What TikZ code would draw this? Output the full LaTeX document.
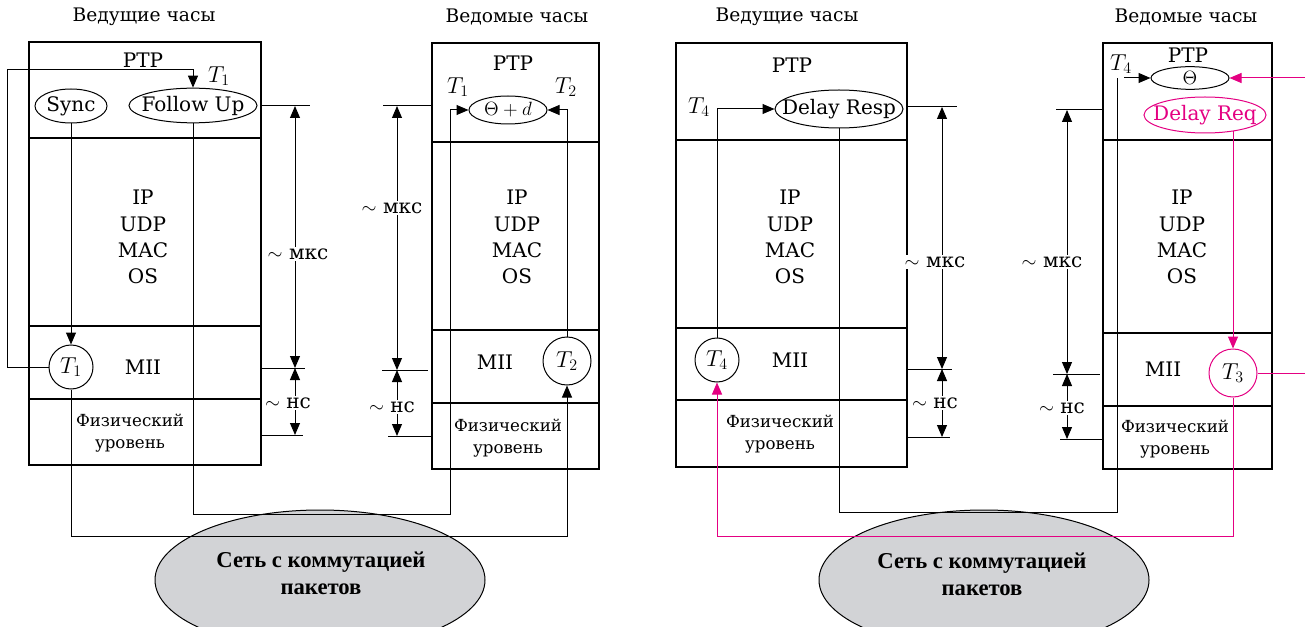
\documentclass[tikz,border=0pt]{standalone}
\usepackage{fontspec}
\setmainfont{DejaVu Serif}
\newfontfamily\netfont{Liberation Serif}
\usetikzlibrary{arrows.meta,shapes.geometric,calc}
\definecolor{ptpmag}{RGB}{228,0,130}
\definecolor{netgray}{RGB}{210,211,214}

% one protocol column: left, top, right, three separators, bottom
\newcommand\drawcolumn[7]{%
  \draw[layer] (#1,#2) rectangle (#3,#7);
  \draw[layer] (#1,#4) -- (#3,#4);
  \draw[layer] (#1,#5) -- (#3,#5);
  \draw[layer] (#1,#6) -- (#3,#6);
}

\begin{document}
\begin{tikzpicture}[x=0.75pt,y=-0.75pt,
  layer/.style={draw, line width=2pt},
  wire/.style={line width=0.75pt},
  tip/.tip={Triangle[length=9pt,width=7.5pt]},
  arr/.style={wire, -tip},
  dimarr/.style={wire, tip-tip},
  mwire/.style={wire, draw=ptpmag},
  marr/.style={wire, draw=ptpmag, -{Triangle[length=9pt,width=7.5pt,fill=ptpmag]}},
  txt/.style={font=\fontsize{15}{17}\selectfont, inner sep=1pt},
  titletxt/.style={font=\fontsize{14}{16}\selectfont, inner sep=1pt},
  stacktxt/.style={font=\fontsize{15}{19.7}\selectfont, align=center, inner sep=0pt},
  phytxt/.style={font=\fontsize{12.5}{16.5}\selectfont, align=center, inner sep=0pt},
  tlabel/.style={font=\fontsize{17}{19}\selectfont, inner sep=0pt},
  msg/.style={ellipse, draw, line width=0.75pt, inner sep=0pt},
  msgtxt/.style={font=\fontsize{15}{17}\selectfont, inner sep=0pt},
  stamp/.style={circle, draw, line width=0.75pt, inner sep=0pt, font=\fontsize{17}{19}\selectfont},
  dimtxt/.style={font=\fontsize{15}{17}\selectfont, fill=white, inner sep=1.5pt},
  net/.style={ellipse, draw, line width=0.75pt, fill=netgray, minimum width=247.5pt, minimum height=105pt},
  nettxt/.style={font=\netfont\bfseries\fontsize{17}{20.5}\selectfont, align=center}
]
\useasboundingbox (0,0) rectangle (1305,627);

% packet networks (drawn first so the wires run over them)
\node[net] (net1) at (320,580) {};
\node[net] (net2) at (984,580) {};

% ---------------- Sync / Follow Up ----------------
\node[titletxt] (title1) at (144,17) {Ведущие часы};
\node[titletxt] (title2) at (517,17) {Ведомые часы};

\drawcolumn{29}{42}{261}{138}{326}{399}{465}
\drawcolumn{432}{43}{599}{142}{330}{403}{469}

\node[txt] (ptp1) at (143,60) {PTP};
\node[txt] (ptp2) at (513,63) {PTP};
\node[stacktxt] (stk1) at (143,237) {IP\\UDP\\MAC\\OS};
\node[stacktxt] (stk2) at (517,237) {IP\\UDP\\MAC\\OS};
\node[txt] (mii1) at (143,367) {MII};
\node[txt] (mii2) at (495,362) {MII};
\node[phytxt] (phy1) at (130,433) {Физический\\уровень};
\node[phytxt] (phy2) at (508,438) {Физический\\уровень};

\node[msg, minimum width=54pt, minimum height=25.5pt,
      label={[msgtxt]center:Sync}] (sync) at (71,106) {};
\node[msg, minimum width=96pt, minimum height=26pt,
      label={[msgtxt]center:Follow Up}] (fup) at (193,105.5) {};
\node[msg, minimum width=58.5pt, minimum height=21pt,
      label={[msgtxt]center:$\Theta + d$}] (thd) at (508,110) {};
\node[stamp, minimum size=33pt] (mT1) at (71,367) {$T_1$};
\node[stamp, minimum size=36pt] (sT2) at (567,361) {$T_2$};

\node[tlabel] (lT1a) at (219,76) {$T_1$};
\node[tlabel] (lT1b) at (458,87) {$T_1$};
\node[tlabel] (lT2) at (566,87) {$T_2$};

\coordinate (loopL) at (7,70);
\coordinate (bus1) at (450,514);
\coordinate (bus2) at (567,536);

\draw[arr] (sync.south) -- (mT1.north);
\draw[arr] (mT1.west) -| (loopL) -| (fup.north);
\draw[arr] (fup.south) |- (bus1) |- (thd.west);
\draw[arr] (mT1.south) |- (bus2) -- (sT2.south);
\draw[arr] (sT2.north) |- (thd.east);

% delay dimensions, master side
\draw[wire] (261,106) -- (310,106);
\draw[wire] (261,368) -- (305,368);
\draw[wire] (261,435) -- (303,435);
\draw[dimarr] (295,106) -- (295,368);
\draw[dimarr] (295,368) -- (295,435);
\node[dimtxt] (mks1) at (298,254) {$\sim$ мкс};
\node[dimtxt] (ns1) at (288,403) {$\sim$ нс};

% delay dimensions, slave side
\draw[wire] (383,106) -- (432,106);
\draw[wire] (382,370) -- (428,370);
\draw[wire] (388,436) -- (432,436);
\draw[dimarr] (397,106) -- (397,370);
\draw[dimarr] (397,370) -- (397,436);
\node[dimtxt] (mks2) at (392,208) {$\sim$ мкс};
\node[dimtxt] (ns2) at (392,407) {$\sim$ нс};

% ---------------- Delay Req / Delay Resp ----------------
\node[titletxt] (title3) at (787,17) {Ведущие часы};
\node[titletxt] (title4) at (1186,17) {Ведомые часы};

\drawcolumn{676}{43}{907}{140}{328}{400}{467}
\drawcolumn{1103}{43}{1272}{140}{333}{406}{469}

\node[txt] (ptp3) at (792,65) {PTP};
\node[txt] (ptp4) at (1188,55) {PTP};
\node[stacktxt] (stk3) at (790,237) {IP\\UDP\\MAC\\OS};
\node[stacktxt] (stk4) at (1182,237) {IP\\UDP\\MAC\\OS};
\node[txt] (mii3) at (790,360) {MII};
\node[txt] (mii4) at (1163,369) {MII};
\node[phytxt] (phy3) at (780,434) {Физический\\уровень};
\node[phytxt] (phy4) at (1175,439) {Физический\\уровень};

\node[msg, minimum width=96pt, minimum height=28.5pt,
      label={[msgtxt]center:Delay Resp}] (dresp) at (839,109) {};
\node[msg, minimum width=58.5pt, minimum height=17pt,
      label={[msgtxt]center:$\Theta$}] (theta) at (1190,78) {};
\node[msg, draw=ptpmag, minimum width=91.5pt, minimum height=27pt,
      label={[msgtxt, text=ptpmag]center:Delay Req}] (dreq) at (1205,115) {};
\node[stamp, minimum size=33pt] (mT4) at (717,360) {$T_4$};
\node[stamp, draw=ptpmag, minimum size=36pt] (sT3) at (1233,373) {$T_3$};

\node[tlabel] (lT4a) at (699,107) {$T_4$};
\node[tlabel] (lT4b) at (1121,64) {$T_4$};

\coordinate (bus3) at (1117,512);
\coordinate (s4top) at (1117,78);
\coordinate (s4arr) at (1124,78);
\coordinate (bus4) at (717,536);
\coordinate (rin) at (1305,78);
\coordinate (rout) at (1305,373);

\draw[arr] (mT4.north) |- (dresp.west);
\draw[wire] (dresp.south) |- (bus3) -- (s4top);
\draw[arr] (s4arr) -- (theta.west);

\draw[marr] (rin) -- (theta.east);
\draw[marr] (sT3.north |- dreq.-30) -- (sT3.north);
\draw[mwire] (sT3.east) -- (rout);
\draw[marr] (sT3.south) |- (bus4) -- (mT4.south);

% delay dimensions, master side
\draw[wire] (907,107) -- (957,107);
\draw[wire] (907,369) -- (952,369);
\draw[wire] (907,437) -- (950,437);
\draw[dimarr] (942,107) -- (942,369);
\draw[dimarr] (942,369) -- (942,437);
\node[dimtxt] (mks3) at (935,262) {$\sim$ мкс};
\node[dimtxt] (ns3) at (935,403) {$\sim$ нс};

% delay dimensions, slave side
\draw[wire] (1056,110) -- (1103,110);
\draw[wire] (1053,374) -- (1100,374);
\draw[wire] (1060,439) -- (1103,439);
\draw[dimarr] (1067,110) -- (1067,374);
\draw[dimarr] (1067,374) -- (1067,439);
\node[dimtxt] (mks4) at (1052,262) {$\sim$ мкс};
\node[dimtxt] (ns4) at (1062,408) {$\sim$ нс};

% network labels
\node[nettxt] (netl1) at (321,573) {Сеть с коммутацией\\пакетов};
\node[nettxt] (netl2) at (982,574) {Сеть с коммутацией\\пакетов};
\end{tikzpicture}
\end{document}
